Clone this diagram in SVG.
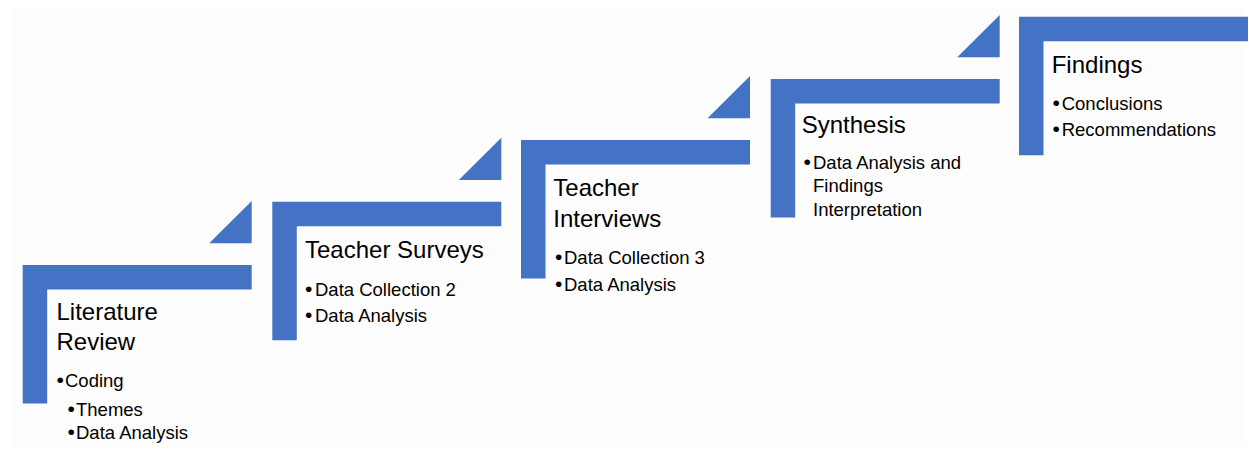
<svg xmlns="http://www.w3.org/2000/svg" width="1249" height="449" viewBox="0 0 1249 449">
  <style>
    .bar { fill: #4472C4; }
    .title { font-family: "Liberation Sans", Arial, sans-serif; font-size: 24px; fill: #000; }
    .item { font-family: "Liberation Sans", Arial, sans-serif; font-size: 18.5px; fill: #000; }
    .dot { font-size: 21px; }
  </style>
  <defs>
    <!-- one step: corner bracket (top bar + left leg) and the rising triangle -->
    <g id="stepShape">
      <path class="bar" d="M0 0 H229 V24.5 H24.5 V138.5 H0 Z"/>
      <path class="bar" d="M186.5 -21.7 H229 V-64 Z"/>
    </g>
  </defs>
  <rect width="1249" height="449" fill="#ffffff"/>
  <rect x="12" y="7" width="1231" height="440" fill="#fdfdfd"/>

  <g id="step-literature-review">
    <use href="#stepShape" x="22.7" y="265"/>
    <text class="title" x="56.5" y="320">Literature</text>
    <text class="title" x="56.5" y="350">Review</text>
    <text class="item" y="387"><tspan class="dot" x="56.5">•</tspan><tspan x="65">Coding</tspan></text>
    <text class="item" y="416"><tspan class="dot" x="67.5">•</tspan><tspan x="76">Themes</tspan></text>
    <text class="item" y="439"><tspan class="dot" x="67.5">•</tspan><tspan x="76">Data Analysis</tspan></text>
  </g>

  <g id="step-teacher-surveys">
    <use href="#stepShape" x="272.3" y="201.7"/>
    <text class="title" x="305" y="258.3">Teacher Surveys</text>
    <text class="item" y="295.7"><tspan class="dot" x="305">•</tspan><tspan x="315">Data Collection 2</tspan></text>
    <text class="item" y="321.7"><tspan class="dot" x="305">•</tspan><tspan x="315">Data Analysis</tspan></text>
  </g>

  <g id="step-teacher-interviews">
    <use href="#stepShape" x="521" y="140"/>
    <text class="title" x="553.3" y="196">Teacher</text>
    <text class="title" x="553.3" y="226.7">Interviews</text>
    <text class="item" y="264"><tspan class="dot" x="555">•</tspan><tspan x="564">Data Collection 3</tspan></text>
    <text class="item" y="290.7"><tspan class="dot" x="555">•</tspan><tspan x="564">Data Analysis</tspan></text>
  </g>

  <g id="step-synthesis">
    <use href="#stepShape" x="770.7" y="79"/>
    <text class="title" x="801.7" y="133.3">Synthesis</text>
    <text class="item" y="169.3"><tspan class="dot" x="803.5">•</tspan><tspan x="813">Data Analysis and</tspan></text>
    <text class="item" x="813" y="192.3">Findings</text>
    <text class="item" x="813" y="215.7">Interpretation</text>
  </g>

  <g id="step-findings">
    <path class="bar" d="M1019 16.7 H1248 V41.2 H1043.5 V155.2 H1019 Z"/>
    <text class="title" x="1051.7" y="72.7">Findings</text>
    <text class="item" y="110"><tspan class="dot" x="1052.5">•</tspan><tspan x="1061.7">Conclusions</tspan></text>
    <text class="item" y="136"><tspan class="dot" x="1052.5">•</tspan><tspan x="1061.7">Recommendations</tspan></text>
  </g>

  <g id="connectors"></g>
</svg>
